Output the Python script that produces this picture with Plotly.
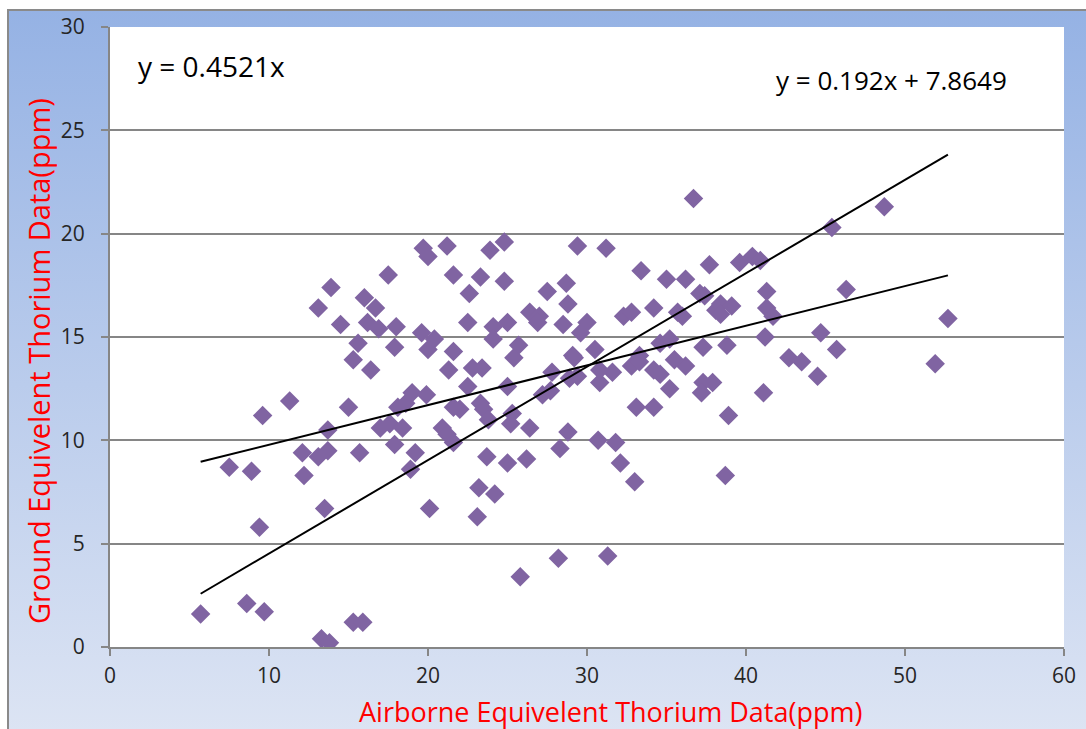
import base64
import plotly.graph_objects as go

# ---- data ----
airborne = [
    5.7, 7.5, 8.9, 8.6, 9.7, 9.4, 9.6, 11.3, 12.1, 12.2, 13.1, 13.1, 13.5, 13.3, 13.8,
    13.7, 13.7, 13.9, 14.5, 15.0, 15.3, 15.6, 15.7, 15.3, 15.9, 16.0, 16.7, 16.2, 16.9,
    16.4, 17.0, 17.6, 18.4, 17.9, 17.5, 17.9, 18.0, 18.6, 18.9, 19.9, 19.2, 19.0, 19.6,
    19.7, 20.0, 20.0, 20.4, 20.1, 20.9, 21.2, 21.6, 22.0, 21.3, 21.2, 21.6, 21.6, 21.6,
    23.9, 24.8, 29.4, 31.2, 23.3, 24.8, 22.6, 27.5, 28.7, 28.8, 33.4, 35.0, 36.2, 37.7,
    37.1, 37.4, 22.5, 24.1, 25.0, 26.4, 27.0, 26.9, 28.5, 30.0, 29.6, 32.3, 32.8, 34.2,
    35.7, 36.0, 38.1, 24.1, 25.7, 25.4, 22.8, 23.4, 29.1, 30.5, 33.3, 34.6, 35.2, 37.3,
    22.5, 25.0, 27.8, 28.9, 29.4, 30.8, 31.6, 32.8, 33.3, 34.2, 34.6, 35.2, 36.2, 37.3,
    37.9, 23.3, 23.5, 25.3, 27.2, 27.7, 33.1, 34.2, 23.8, 25.2, 26.4, 28.8, 23.7, 25.0,
    26.2, 28.3, 30.7, 31.8, 32.1, 33.0, 23.2, 24.2, 23.1, 28.2, 31.3, 25.8, 48.7, 45.4,
    39.6, 40.4, 40.9, 38.4, 39.1, 38.4, 41.3, 41.3, 41.7, 46.3, 52.7, 38.8, 41.2, 44.7,
    45.7, 42.7, 43.5, 44.5, 51.9, 37.2, 41.1, 38.9, 38.7, 36.7, 35.5, 18.1, 29.2, 30.8,
]
ground = [
    1.6, 8.7, 8.5, 2.1, 1.7, 5.8, 11.2, 11.9, 9.4, 8.3, 9.2, 16.4, 6.7, 0.4, 0.2,
    10.5, 9.5, 17.4, 15.6, 11.6, 13.9, 14.7, 9.4, 1.2, 1.2, 16.9, 16.4, 15.7, 15.4,
    13.4, 10.6, 10.8, 10.6, 9.8, 18.0, 14.5, 15.5, 11.8, 8.6, 12.2, 9.4, 12.3, 15.2,
    19.3, 18.9, 14.4, 14.9, 6.7, 10.6, 10.3, 9.9, 11.5, 13.4, 19.4, 18.0, 14.3, 11.6,
    19.2, 19.6, 19.4, 19.3, 17.9, 17.7, 17.1, 17.2, 17.6, 16.6, 18.2, 17.8, 17.8, 18.5,
    17.1, 17.0, 15.7, 15.5, 15.7, 16.2, 16.0, 15.7, 15.6, 15.7, 15.2, 16.0, 16.2, 16.4,
    16.2, 16.0, 16.3, 14.9, 14.6, 14.0, 13.5, 13.5, 14.1, 14.4, 14.1, 14.7, 14.9, 14.5,
    12.6, 12.6, 13.3, 13.0, 13.1, 12.8, 13.3, 13.6, 13.8, 13.4, 13.2, 12.5, 13.6, 12.8,
    12.8, 11.8, 11.5, 11.3, 12.2, 12.4, 11.6, 11.6, 11.0, 10.8, 10.6, 10.4, 9.2, 8.9,
    9.1, 9.6, 10.0, 9.9, 8.9, 8.0, 7.7, 7.4, 6.3, 4.3, 4.4, 3.4, 21.3, 20.3,
    18.6, 18.9, 18.7, 16.6, 16.5, 16.1, 17.2, 16.4, 16.0, 17.3, 15.9, 14.6, 15.0, 15.2,
    14.4, 14.0, 13.8, 13.1, 13.7, 12.3, 12.3, 11.2, 8.3, 21.7, 13.9, 11.6, 14.0, 13.4,
]

fit_x = [5.7, 52.7]
slope_through_origin = 0.4521
lin_slope, lin_intercept = 0.192, 7.8649
eq1_text = "y = 0.4521x"
eq2_text = "y = 0.192x + 7.8649"
x_title = "Airborne Equivelent Thorium Data(ppm)"
y_title = "Ground Equivelent Thorium Data(ppm)"

# ---- layout geometry ----
W, H = 1086, 729
L, R, T, B = 110, 22, 27, 82
PW, PH = W - L - R, H - T - B


def px(xp):
    return (xp - L) / PW


def py(yp):
    return (H - B - yp) / PH


svg = f'''<svg xmlns="http://www.w3.org/2000/svg" width="{W}" height="{H}" viewBox="0 0 {W} {H}" preserveAspectRatio="none">
<defs><linearGradient id="g" x1="0" y1="0" x2="0" y2="1">
<stop offset="0" stop-color="#95B2E4"/><stop offset="1" stop-color="#DFE6F4"/></linearGradient></defs>
<rect width="{W}" height="{H}" fill="#FFFFFF"/>
<rect x="8" y="10" width="{W + 20}" height="{H + 20}" fill="url(#g)" stroke="#8A8A8A" stroke-width="2"/>
<rect x="{L}" y="{T}" width="{PW}" height="{PH}" fill="#FFFFFF"/>
</svg>'''
src = "data:image/svg+xml;base64," + base64.b64encode(svg.encode()).decode()

FONT = "Open Sans"
fig = go.Figure()
fig.add_trace(go.Scatter(
    x=airborne, y=ground, mode="markers",
    marker=dict(symbol="diamond", size=15, color="#8064A2", line=dict(width=0)),
    showlegend=False, hoverinfo="x+y",
))
fig.add_trace(go.Scatter(
    x=fit_x, y=[slope_through_origin * v for v in fit_x], mode="lines",
    line=dict(color="#000000", width=2), showlegend=False,
))
fig.add_trace(go.Scatter(
    x=fit_x, y=[lin_slope * v + lin_intercept for v in fit_x], mode="lines",
    line=dict(color="#000000", width=2), showlegend=False,
))

axis_common = dict(
    showline=True, linecolor="#868686", linewidth=2,
    ticks="outside", ticklen=7, tickcolor="#868686", tickwidth=2,
    tickfont=dict(family=FONT, size=21, color="#262626"),
    zeroline=False,
)
fig.update_xaxes(range=[0, 60], dtick=10, showgrid=False, ticklabelstandoff=2, **axis_common)
fig.update_yaxes(range=[0, 30], dtick=5, showgrid=True, gridcolor="#868686", gridwidth=2,
                 ticklabelstandoff=12, **axis_common)

fig.update_layout(
    width=W, height=H,
    margin=dict(l=L, r=R, t=T, b=B, autoexpand=False),
    paper_bgcolor="#FFFFFF", plot_bgcolor="#FFFFFF",
    images=[dict(source=src, xref="paper", yref="paper", x=px(0), y=py(0),
                 sizex=W / PW, sizey=H / PH, xanchor="left", yanchor="top",
                 sizing="stretch", layer="below")],
    annotations=[
        dict(text=eq1_text, xref="paper", yref="paper", x=px(136), y=py(66),
             xanchor="left", yanchor="middle", showarrow=False,
             font=dict(family=FONT, size=28, color="#000000")),
        dict(text=eq2_text, xref="paper", yref="paper", x=px(774), y=py(80),
             xanchor="left", yanchor="middle", showarrow=False,
             font=dict(family=FONT, size=26, color="#000000")),
        dict(text=x_title, xref="paper", yref="paper", x=px(610), y=py(711),
             xanchor="center", yanchor="middle", showarrow=False,
             font=dict(family=FONT, size=27, color="#FF0000")),
        dict(text=y_title, xref="paper", yref="paper", x=px(38), y=py(361),
             xanchor="center", yanchor="middle", showarrow=False, textangle=-90,
             font=dict(family=FONT, size=29, color="#FF0000")),
    ],
)

fig.write_html("out.html")
